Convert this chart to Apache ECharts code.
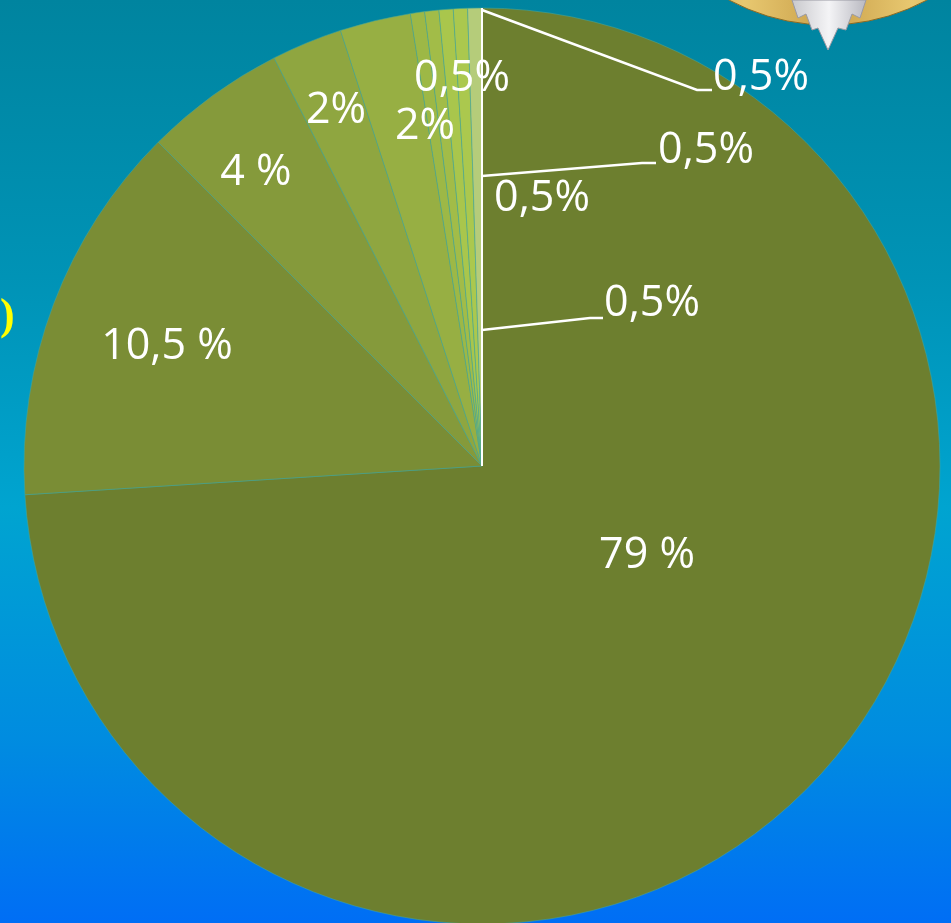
<!DOCTYPE html>
<html>
<head>
<meta charset="utf-8">
<script src="https://cdn.jsdelivr.net/npm/echarts@6/dist/echarts.min.js"></script>
<style>
html,body{margin:0;padding:0;}
#c{width:951px;height:923px;}
</style>
</head>
<body>
<div id="c"></div>
<script>
// slice values and their printed labels
const sliceValues = [74, 13.5, 5, 2.5, 2.5, 0.5, 0.5, 0.5, 0.5, 0.5];
const sliceLabels = ['79 %', '10,5 %', '4 %', '2%', '2%', '0,5%', '0,5%', '0,5%', '0,5%', '0,5%'];
const sliceColors = ['#6d7f2f', '#7a8d35', '#859a3b', '#8fa640', '#97af43', '#9db846', '#a2bc48', '#a9c64c', '#abc84e', '#b5cc7a'];

// layout (pixels)
const CX = 482, CY = 466, R = 458;
const labelPos = [
  [647, 556], [167, 347], [256, 173], [336, 111], [425, 127],
  [462, 79], [542, 199], [652, 304], [706, 151], [761, 78]
];
const leaderLines = {
  7: [[CX, 330], [590, 318], [603, 318]],
  8: [[CX, 176], [642, 163], [656, 163]],
  9: [[CX, CY - R + 2], [697, 90], [712, 90]]
};

const chart = echarts.init(document.getElementById('c'));
const data = sliceValues.map((v, i) => ({
  value: v,
  name: 'S' + i,
  itemStyle: { color: sliceColors[i] },
  label: { formatter: sliceLabels[i], position: 'inside' }
}));

const graphics = [
  { type: 'text', left: 0, top: 296, style: { text: ')', fill: '#ffff00', font: 'bold 44px "Liberation Serif"' } },
  { type: 'ring', shape: { cx: 828, cy: -184, r: 209, r0: 186 },
    style: { fill: { type: 'linear', x: 0, y: 0, x2: 1, y2: 0, colorStops: [
      { offset: 0, color: '#b88e3a' }, { offset: 0.3, color: '#e8c870' }, { offset: 0.5, color: '#c9a04a' },
      { offset: 0.7, color: '#e8c870' }, { offset: 1, color: '#b88e3a' }] }, stroke: '#8a6a25', lineWidth: 1 } },
  { type: 'polygon', shape: { points: [[792, 0], [798, 18], [806, 14], [812, 30], [818, 28], [828, 50], [838, 28], [846, 30], [852, 14], [860, 18], [866, 0]] },
    style: { fill: { type: 'linear', x: 0, y: 0, x2: 1, y2: 0, colorStops: [
      { offset: 0, color: '#c8c8cc' }, { offset: 0.5, color: '#f4f4f6' }, { offset: 1, color: '#b8b8c0' }] }, stroke: '#9a9aa4', lineWidth: 1 } },
  { type: 'line', shape: { x1: CX, y1: CY, x2: CX, y2: CY - R }, style: { stroke: '#ffffff', lineWidth: 2 }, z: 100 }
];
Object.keys(leaderLines).forEach(k => {
  graphics.push({ type: 'polyline', shape: { points: leaderLines[k] }, style: { stroke: '#ffffff', lineWidth: 2.5, fill: null }, z: 100 });
});

chart.setOption({
  backgroundColor: {
    type: 'linear', x: 0, y: 0, x2: 0, y2: 1,
    colorStops: [
      { offset: 0, color: '#00849f' },
      { offset: 0.3, color: '#0093b6' },
      { offset: 0.55, color: '#00a4d0' },
      { offset: 0.8, color: '#008ce0' },
      { offset: 1, color: '#006ef5' }
    ]
  },
  animation: false,
  graphic: graphics,
  series: [{
    type: 'pie',
    center: [CX, CY],
    radius: R,
    startAngle: 90,
    clockwise: true,
    data: data,
    avoidLabelOverlap: false,
    itemStyle: { borderColor: 'rgba(70,165,150,0.7)', borderWidth: 0.8 },
    label: {
      show: true,
      color: '#ffffff',
      fontFamily: 'Open Sans',
      fontSize: 43,
      overflow: 'none'
    },
    labelLine: { show: false },
    labelLayout: function (p) {
      const i = p.dataIndex;
      return { x: labelPos[i][0], y: labelPos[i][1], align: 'center', verticalAlign: 'middle', hideOverlap: false };
    },
    emphasis: { disabled: true }
  }]
});
</script>
</body>
</html>
